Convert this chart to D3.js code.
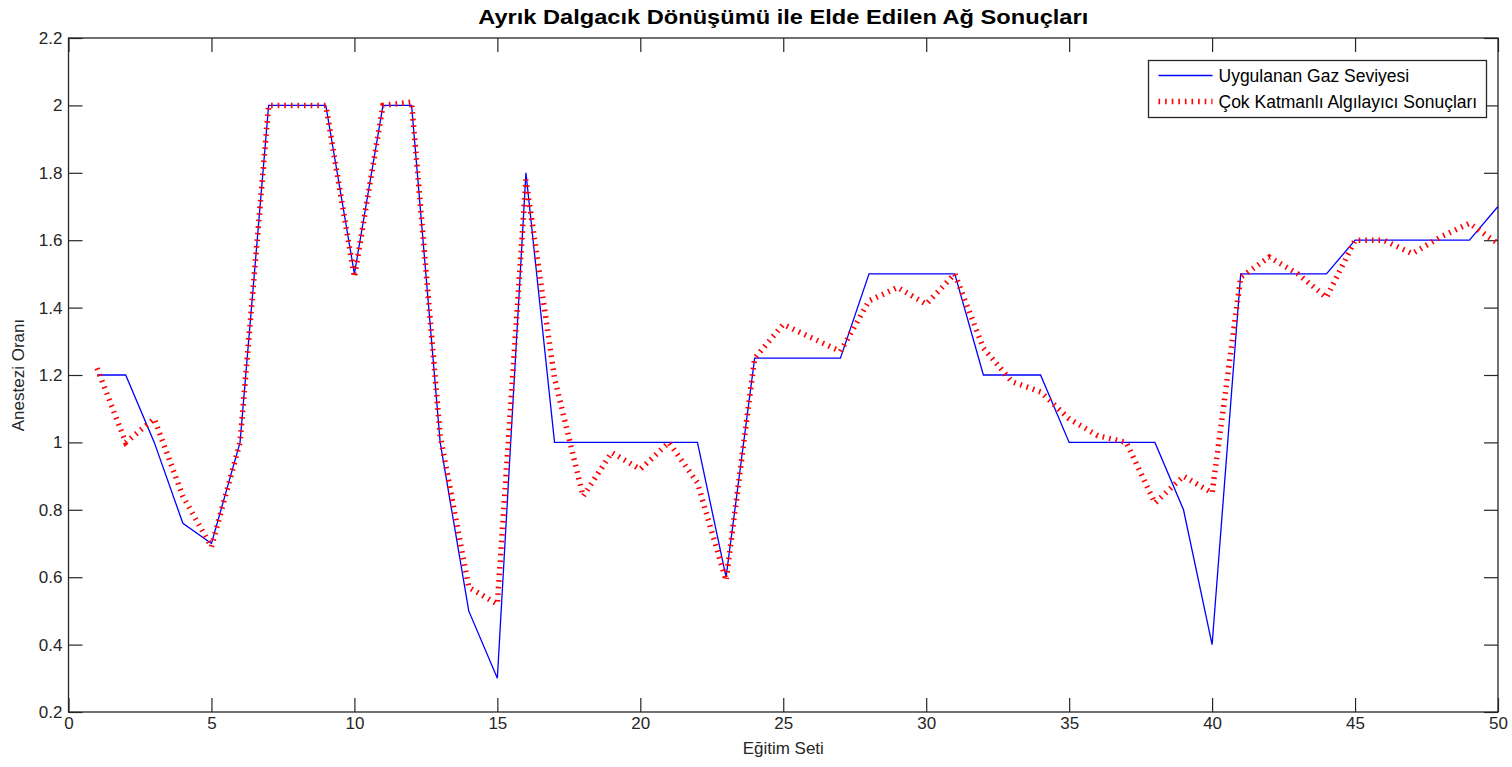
<!DOCTYPE html>
<html>
<head>
<meta charset="utf-8">
<script src="https://cdn.jsdelivr.net/npm/d3@7"></script>
<style>
  html, body { margin: 0; padding: 0; background: #fff; }
  svg { display: block; font-family: "Liberation Sans", Arial, Helvetica, sans-serif; }
</style>
</head>
<body>
<svg id="chart" width="1512" height="767"></svg>
<script>
// Training set index
const setIndex = d3.range(1, 51);

// Applied gas level
const gasLevel = [
  1.20, 1.20, 1.00, 0.76, 0.70, 1.00, 2.00, 2.00, 2.00, 1.50,
  2.00, 2.00, 1.00, 0.50, 0.30, 1.80, 1.00, 1.00, 1.00, 1.00,
  1.00, 1.00, 0.60, 1.25, 1.25, 1.25, 1.25, 1.50, 1.50, 1.50,
  1.50, 1.20, 1.20, 1.20, 1.00, 1.00, 1.00, 1.00, 0.80, 0.40,
  1.50, 1.50, 1.50, 1.50, 1.60, 1.60, 1.60, 1.60, 1.60, 1.70
];

// Multilayer perceptron output
const mlpOutput = [
  1.22, 1.00, 1.07, 0.84, 0.69, 1.00, 2.00, 2.00, 2.00, 1.49,
  2.00, 2.01, 1.02, 0.57, 0.52, 1.78, 1.19, 0.84, 0.97, 0.92,
  1.00, 0.88, 0.59, 1.25, 1.35, 1.31, 1.27, 1.42, 1.46, 1.41,
  1.50, 1.28, 1.18, 1.15, 1.07, 1.02, 1.00, 0.82, 0.90, 0.85,
  1.49, 1.55, 1.50, 1.43, 1.60, 1.60, 1.56, 1.61, 1.65, 1.59
];

const xTicks = d3.range(0, 51, 5);
const yTicks = [0.2, 0.4, 0.6, 0.8, 1, 1.2, 1.4, 1.6, 1.8, 2, 2.2];

const titleText = "Ayrık Dalgacık Dönüşümü ile Elde Edilen Ağ Sonuçları";
const xLabelText = "Eğitim Seti";
const yLabelText = "Anestezi Oranı";
const seriesNames = ["Uygulanan Gaz Seviyesi", "Çok Katmanlı Algılayıcı Sonuçları"];

const plotLeft = 68.5, plotRight = 1498, plotTop = 38, plotBottom = 712;
const svg = d3.select("#chart");

const x = d3.scaleLinear().domain([0, 50]).range([plotLeft, plotRight]);
const y = d3.scaleLinear().domain([0.2, 2.2]).range([plotBottom, plotTop]);

const axisColor = "#262626";
const tickLen = 14;
const fontSize = 17;

// Ticks on all four sides, pointing inward
function styleAxis(g) {
  g.select(".domain").remove();
  g.selectAll(".tick line").attr("stroke", axisColor).attr("stroke-width", 1.2);
  g.selectAll(".tick text").attr("fill", "#262626").attr("font-size", fontSize)
    .attr("font-family", "\"Liberation Sans\", Arial, sans-serif");
}

svg.append("g").attr("transform", `translate(0,${plotBottom})`)
  .call(d3.axisBottom(x).tickValues(xTicks).tickSizeInner(-tickLen).tickSizeOuter(0).tickPadding(5).tickFormat(d3.format("d")))
  .call(styleAxis);
svg.append("g").attr("transform", `translate(0,${plotTop})`)
  .call(d3.axisTop(x).tickValues(xTicks).tickSizeInner(-tickLen).tickSizeOuter(0).tickFormat(""))
  .call(styleAxis);
svg.append("g").attr("transform", `translate(${plotLeft},0)`)
  .call(d3.axisLeft(y).tickValues(yTicks).tickSizeInner(-tickLen).tickSizeOuter(0).tickPadding(6).tickFormat(d => String(+d.toFixed(1))))
  .call(styleAxis);
svg.append("g").attr("transform", `translate(${plotRight},0)`)
  .call(d3.axisRight(y).tickValues(yTicks).tickSizeInner(-tickLen).tickSizeOuter(0).tickFormat(""))
  .call(styleAxis);

// Plot box
svg.append("rect")
  .attr("x", plotLeft).attr("y", plotTop)
  .attr("width", plotRight - plotLeft).attr("height", plotBottom - plotTop)
  .attr("fill", "none").attr("stroke", axisColor).attr("stroke-width", 1.3);

const line = d3.line().x((d, i) => x(setIndex[i])).y(d => y(d));

const plot = svg.append("g");

plot.append("path")
  .datum(gasLevel)
  .attr("d", line)
  .attr("fill", "none")
  .attr("stroke", "#0000ff")
  .attr("stroke-width", 1.3)
  .attr("stroke-linejoin", "miter");

plot.append("path")
  .datum(mlpOutput)
  .attr("d", line)
  .attr("fill", "none")
  .attr("stroke", "#ff0000")
  .attr("stroke-width", 5.5)
  .attr("stroke-dasharray", "1.6 5")
  .attr("stroke-linecap", "butt");

// Title and axis labels
svg.append("text")
  .attr("x", (plotLeft + plotRight) / 2).attr("y", 24)
  .attr("text-anchor", "middle")
  .attr("font-size", 21).attr("font-weight", "bold").attr("fill", "#000")
  .attr("textLength", 610).attr("lengthAdjust", "spacingAndGlyphs")
  .text(titleText);

svg.append("text")
  .attr("x", (plotLeft + plotRight) / 2).attr("y", 754)
  .attr("text-anchor", "middle")
  .attr("font-size", fontSize).attr("fill", "#262626")
  .text(xLabelText);

svg.append("text")
  .attr("transform", `translate(24,${(plotTop + plotBottom) / 2}) rotate(-90)`)
  .attr("text-anchor", "middle")
  .attr("font-size", fontSize).attr("fill", "#262626")
  .text(yLabelText);

// Legend
const legend = svg.append("g");
const lx = 1148.5, ly = 60.5, lw = 338, lh = 57;
legend.append("rect")
  .attr("x", lx).attr("y", ly).attr("width", lw).attr("height", lh)
  .attr("fill", "#fff").attr("stroke", axisColor).attr("stroke-width", 1.3);

const legendRows = [
  { name: seriesNames[0], stroke: "#0000ff", width: 1.3, dash: null },
  { name: seriesNames[1], stroke: "#ff0000", width: 5.5, dash: "1.6 5" }
];
legendRows.forEach((r, i) => {
  const yy = ly + 15 + i * 26;
  legend.append("line")
    .attr("x1", lx + 10).attr("x2", lx + 64)
    .attr("y1", yy).attr("y2", yy)
    .attr("stroke", r.stroke).attr("stroke-width", r.width)
    .attr("stroke-dasharray", r.dash);
  legend.append("text")
    .attr("x", lx + 70).attr("y", yy + 6)
    .attr("font-size", 17.5).attr("fill", "#000")
    .text(r.name);
});
</script>
</body>
</html>
